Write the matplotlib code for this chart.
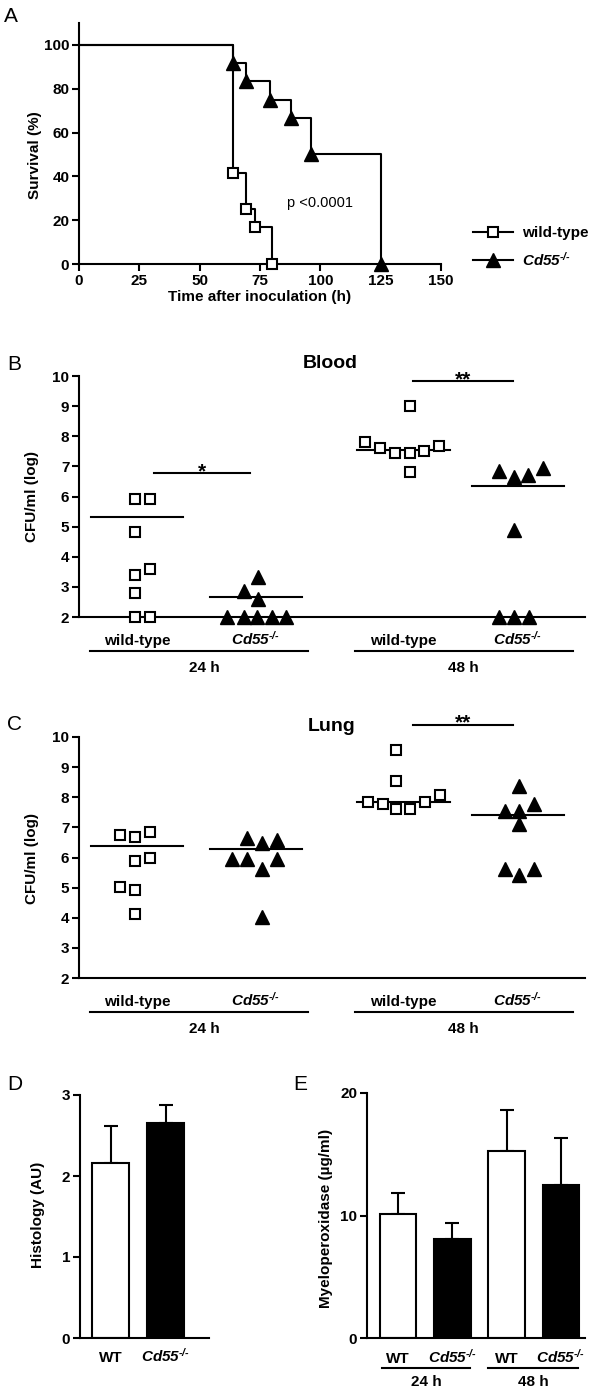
import matplotlib
matplotlib.use('Agg')
import matplotlib.pyplot as plt
import matplotlib.transforms as mtransforms
from matplotlib.lines import Line2D

plt.rcParams.update({
    'font.family': 'Liberation Sans',
    'font.size': 10,
    'font.weight': 'bold',
    'axes.linewidth': 1.5,
    'axes.labelweight': 'bold',
    'axes.labelsize': 11,
    'xtick.labelsize': 11,
    'ytick.labelsize': 11,
    'xtick.major.width': 1.5,
    'ytick.major.width': 1.5,
    'xtick.major.size': 5,
    'ytick.major.size': 5,
    'mathtext.fontset': 'custom',
    'mathtext.it': 'Liberation Sans:italic:bold',
    'mathtext.rm': 'Liberation Sans:italic:bold',
    'mathtext.bf': 'Liberation Sans:italic:bold',
})

CD55 = '$\\mathit{Cd55}^{\\mathit{\u2010/\u2010}}$'

# --- A: survival ---
wt_time = [0, 64, 69, 73, 80]
wt_surv = [100, 41.7, 25.0, 16.7, 0]
ko_time = [0, 64, 69, 79, 88, 96, 125]
ko_surv = [100, 91.7, 83.3, 75.0, 66.7, 50.0, 0]

# --- B / C: CFU scatter ---
group_labels = ['wild-type', CD55, 'wild-type', CD55]
group_pos = [1, 2, 3.24, 4.2]
time_labels = ['24 h', '48 h']
time_label_x = [1.57, 3.74]
time_spans = [(0.605, 2.437), (2.83, 4.66)]

blood_wt24 = [5.92, 5.92, 4.83, 3.40, 3.58, 2.79, 2.0, 2.0]
blood_wt24_dx = [-0.3, 1.7, -0.3, -0.3, 1.7, -0.3, -0.3, 1.7]
blood_ko24 = [2.0, 2.0, 2.0, 2.0, 2.0, 2.86, 3.33, 2.60]
blood_ko24_dx = [-3.9, -1.6, 0.1, 2.1, 4.0, -1.6, 0.3, 0.3]
blood_wt48 = [7.82, 7.60, 7.44, 7.44, 7.51, 7.68, 9.0, 6.81]
blood_wt48_dx = [-5.1, -3.1, -1.2, 0.8, 2.7, 4.7, 0.8, 0.8]
blood_ko48 = [6.83, 6.66, 6.72, 6.94, 4.89, 2.0, 2.0, 2.0]
blood_ko48_dx = [-2.5, -0.5, 1.4, 3.3, -0.5, -2.5, -0.5, 1.5]
blood_center = [5.33, 2.67, 7.53, 6.36]
blood_sig = [(1.143, 1.95, 6.77, '*'), (3.32, 4.16, 9.82, '**')]

lung_wt24 = [6.74, 6.68, 6.84, 5.88, 6.00, 5.02, 4.91, 4.14]
lung_wt24_dx = [-2.3, -0.3, 1.7, -0.3, 1.7, -2.3, -0.3, -0.3]
lung_ko24 = [6.65, 6.48, 6.59, 5.94, 5.94, 5.94, 5.63, 4.03]
lung_ko24_dx = [-1.2, 0.8, 2.8, -3.2, -1.2, 2.8, 0.8, 0.8]
lung_wt48 = [9.58, 8.53, 7.84, 7.76, 7.62, 7.62, 7.84, 8.06]
lung_wt48_dx = [-1.0, -1.0, -4.8, -2.8, -1.0, 0.9, 2.9, 4.9]
lung_ko48 = [8.36, 7.54, 7.54, 7.76, 7.10, 5.63, 5.41, 5.63]
lung_ko48_dx = [0.2, -1.7, 0.2, 2.1, 0.2, -1.7, 0.2, 2.1]
lung_center = [6.37, 6.27, 7.84, 7.40]
lung_sig = [(3.32, 4.16, 10.41, '**')]

# --- D: histology ---
hist_labels = ['WT', CD55]
hist_mean = [2.16, 2.66]
hist_err = [0.46, 0.22]

# --- E: myeloperoxidase ---
mpo_labels = ['WT', CD55, 'WT', CD55]
mpo_mean = [10.12, 8.06, 15.25, 12.48]
mpo_err = [1.68, 1.30, 3.35, 3.81]
mpo_time_spans = [(0.705, 2.33), (2.66, 4.31)]

W, H = 591, 1393
fig = plt.figure(figsize=(W / 100, H / 100), dpi=100)


def px_axes(l, t, r, b):
    return fig.add_axes([l / W, 1 - b / H, (r - l) / W, (b - t) / H])


def fig_text(x, y, s, **kw):
    return fig.text(x / W, 1 - y / H, s, **kw)


def below(ax, px):
    return mtransforms.offset_copy(ax.get_xaxis_transform(), fig=fig,
                                   y=-px, units='dots')


def style(ax):
    ax.spines['top'].set_visible(False)
    ax.spines['right'].set_visible(False)
    ax.tick_params(direction='out', pad=2)


def ylabel_at(ax, text, x, y):
    ax.set_ylabel(text)
    ax.yaxis.label.set_verticalalignment('center')
    ax.yaxis.set_label_coords(x / W, 1 - y / H, transform=fig.transFigure)


# ---------------- A ----------------
axA = px_axes(79, 23, 441, 264)
style(axA)
axA.step(wt_time, wt_surv, where='post', color='k', lw=1.5, zorder=3)
axA.step(ko_time, ko_surv, where='post', color='k', lw=1.5, zorder=3)
axA.plot(wt_time[1:], wt_surv[1:], 's', ms=7, mfc='white', mec='k', mew=1.5,
         zorder=4, clip_on=False)
axA.plot(ko_time[1:], ko_surv[1:], '^', ms=10, color='k', zorder=4,
         clip_on=False)
axA.set_xlim(0, 150)
axA.set_ylim(0, 110)
axA.set_xticks(range(0, 151, 25))
axA.set_yticks(range(0, 101, 20))
axA.text(86, 28, 'p <0.0001', fontsize=10.5, fontweight='normal',
         ha='left', va='center')
axA.set_xlabel('Time after inoculation (h)')
axA.xaxis.label.set_verticalalignment('center')
axA.xaxis.set_label_coords(260 / W, 1 - 297 / H, transform=fig.transFigure)
ylabel_at(axA, 'Survival (%)', 35, 155)

handles = [
    Line2D([], [], color='k', lw=1.5, marker='s', ms=7, mfc='white', mec='k',
           mew=1.5),
    Line2D([], [], color='k', lw=1.5, marker='^', ms=10),
]
axA.legend(handles, ['wild-type', CD55], loc='upper left',
           bbox_to_anchor=(473 / W, 1 - 226 / H),
           bbox_transform=fig.transFigure, frameon=False, borderpad=0,
           borderaxespad=0, handlelength=2.6, handletextpad=0.6,
           labelspacing=0.7, fontsize=11)


# ---------------- B / C ----------------
def scatter_panel(ax, groups, centers, sig, title, title_xy):
    style(ax)
    slot = 0.063
    for i, (vals, dx) in enumerate(groups):
        x0 = group_pos[i]
        xs = [x0 + d * slot for d in dx]
        if i % 2 == 0:
            ax.plot(xs, vals, 's', ms=6.5, mfc='white', mec='k', mew=1.5,
                    ls='none', clip_on=False, zorder=4)
        else:
            ax.plot(xs, vals, '^', ms=9.5, color='k', ls='none',
                    clip_on=False, zorder=4)
        ax.plot([x0 - 0.39, x0 + 0.39], [centers[i]] * 2, color='k', lw=1.5,
                zorder=3)
        ax.text(x0, 0, group_labels[i], transform=below(ax, 28), ha='center',
                va='baseline', fontsize=11)
    for (a, b), lab, lx in zip(time_spans, time_labels, time_label_x):
        ax.plot([a, b], [0, 0], transform=below(ax, 34), color='k', lw=1.5,
                clip_on=False)
        ax.text(lx, 0, lab, transform=below(ax, 55), ha='center',
                va='baseline', fontsize=11)
    star_tr = mtransforms.offset_copy(ax.transData, fig=fig, y=-4,
                                      units='dots')
    for a, b, y, s in sig:
        ax.plot([a, b], [y, y], color='k', lw=1.5, clip_on=False)
        ax.text((a + b) / 2, y, s, transform=star_tr, ha='center',
                va='baseline', fontsize=15)
    ax.set_xlim(0.513, 4.763)
    ax.set_ylim(2, 10)
    ax.set_yticks(range(2, 11))
    ax.set_xticks([])
    fig_text(title_xy[0], title_xy[1], title, fontsize=14, ha='center',
             va='baseline')


axB = px_axes(79, 376, 585, 617)
scatter_panel(axB,
              [(blood_wt24, blood_wt24_dx), (blood_ko24, blood_ko24_dx),
               (blood_wt48, blood_wt48_dx), (blood_ko48, blood_ko48_dx)],
              blood_center, blood_sig, 'Blood', (330, 368))
ylabel_at(axB, 'CFU/ml (log)', 32, 497)

axC = px_axes(79, 737, 585, 978)
scatter_panel(axC,
              [(lung_wt24, lung_wt24_dx), (lung_ko24, lung_ko24_dx),
               (lung_wt48, lung_wt48_dx), (lung_ko48, lung_ko48_dx)],
              lung_center, lung_sig, 'Lung', (332, 731))
ylabel_at(axC, 'CFU/ml (log)', 32, 858)

# ---------------- D ----------------
axD = px_axes(80, 1095, 209, 1338)
style(axD)
xd = [1, 2]
axD.bar(xd, hist_mean, width=0.67, color=['white', 'black'], edgecolor='k',
        linewidth=1.5, zorder=2)
axD.errorbar(xd, hist_mean, yerr=[[0, 0], hist_err], fmt='none', ecolor='k',
             elinewidth=1.5, capsize=5, capthick=1.5, zorder=1)
axD.set_xlim(0.445, 2.79)
axD.set_ylim(0, 3)
axD.set_yticks([0, 1, 2, 3])
axD.set_xticks([])
for x, lab in zip(xd, hist_labels):
    axD.text(x, 0, lab, transform=below(axD, 24), ha='center', va='baseline',
             fontsize=11)
ylabel_at(axD, 'Histology (AU)', 38, 1215)

# ---------------- E ----------------
axE = px_axes(367, 1093, 585, 1338)
style(axE)
xe = [1, 2, 3, 4]
axE.bar(xe, mpo_mean, width=0.676, color=['white', 'black'] * 2,
        edgecolor='k', linewidth=1.5, zorder=2)
axE.errorbar(xe, mpo_mean, yerr=[[0] * 4, mpo_err], fmt='none', ecolor='k',
             elinewidth=1.5, capsize=5, capthick=1.5, zorder=1)
axE.set_xlim(0.429, 4.44)
axE.set_ylim(0, 20)
axE.set_yticks([0, 10, 20])
axE.set_xticks([])
for x, lab in zip(xe, mpo_labels):
    axE.text(x, 0, lab, transform=below(axE, 25), ha='center', va='baseline',
             fontsize=11)
for (a, b), lab in zip(mpo_time_spans, time_labels):
    axE.plot([a, b], [0, 0], transform=below(axE, 30), color='k', lw=1.5,
             clip_on=False)
    axE.text((a + b) / 2, 0, lab, transform=below(axE, 48), ha='center',
             va='baseline', fontsize=11)
ylabel_at(axE, 'Myeloperoxidase (\u00b5g/ml)', 326, 1218)

# panel letters
for lab, x, y in [('A', 4, 22), ('B', 7, 370), ('C', 7, 730),
                  ('D', 7, 1090), ('E', 293, 1090)]:
    fig_text(x, y, lab, fontsize=15, fontweight='normal', ha='left',
             va='baseline')

fig.savefig('out.png', dpi=100)
